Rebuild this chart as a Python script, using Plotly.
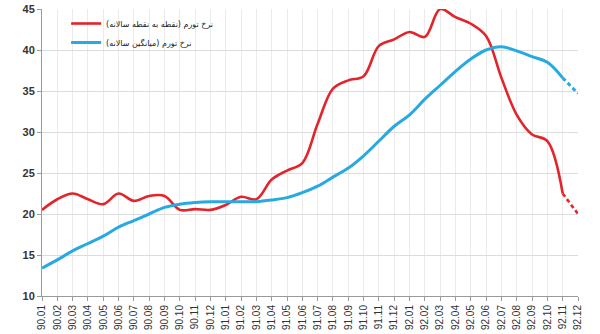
import plotly.graph_objects as go

categories = [f"{y}.{m:02d}" for y in (90, 91, 92) for m in range(1, 13)]

point_to_point = [20.5, 21.8, 22.5, 21.8, 21.2, 22.5, 21.6, 22.2, 22.2, 20.5, 20.6, 20.5,
                  21.1, 22.1, 21.8, 24.2, 25.3, 26.2, 31.0, 35.3, 36.3, 36.8, 40.5, 41.3,
                  42.2, 41.6, 45.0, 44.0, 43.2, 41.7, 36.6, 32.1, 29.7, 28.9, 22.5, 20.0]

annual_avg = [13.4, 14.4, 15.5, 16.4, 17.3, 18.4, 19.2, 20.0, 20.8, 21.2, 21.4, 21.5,
              21.5, 21.5, 21.5, 21.7, 22.0, 22.6, 23.4, 24.5, 25.6, 27.1, 28.9, 30.7,
              32.1, 34.0, 35.7, 37.4, 38.9, 40.0, 40.4, 39.9, 39.2, 38.5, 36.6, 34.7]

y_ticks = [10, 15, 20, 25, 30, 35, 40, 45]

name_red = "نرخ تورم (نقطه به نقطه سالانه)"
name_blue = "نرخ تورم (میانگین سالانه)"

RED = "#e3242b"
BLUE = "#27a9e1"

x_idx = list(range(len(categories)))
split = len(categories) - 2  # last segment drawn dashed

fig = go.Figure()
for vals, color, name, width in ((point_to_point, RED, name_red, 2.6),
                                 (annual_avg, BLUE, name_blue, 3)):
    fig.add_trace(go.Scatter(x=x_idx[:split + 1], y=vals[:split + 1], mode="lines",
                             line=dict(color=color, width=width, shape="spline", smoothing=1),
                             name=name, showlegend=True, cliponaxis=False))
    fig.add_trace(go.Scatter(x=x_idx[split:], y=vals[split:], mode="lines",
                             line=dict(color=color, width=width, dash="4px,3px"),
                             showlegend=False, hoverinfo="skip"))

fig.update_layout(
    width=600, height=334,
    margin=dict(l=42, r=22, t=9, b=38),
    paper_bgcolor="white", plot_bgcolor="white",
    showlegend=True,
    legend=dict(x=0.045, y=1.0, xanchor="left", yanchor="top",
                bgcolor="rgba(0,0,0,0)", font=dict(family="DejaVu Sans", size=8, color="#222"),
                itemwidth=30, tracegroupgap=0),
    font=dict(family="Liberation Sans", color="#333"),
)
fig.update_xaxes(
    range=[0, len(categories) - 1], automargin=False,
    tickmode="array", tickvals=x_idx, ticktext=categories,
    tickangle=-90, tickfont=dict(family="Liberation Sans", size=10, color="#333"),
    showgrid=True, gridcolor="#ebebeb", gridwidth=1,
    showline=True, linecolor="#9a9a9a", linewidth=1,
    ticks="outside", ticklen=4, tickcolor="#9a9a9a",
    zeroline=False,
)
fig.update_yaxes(
    range=[10, 45], automargin=False,
    tickmode="array", tickvals=y_ticks, ticktext=[f"<b>{v}</b>" for v in y_ticks],
    tickfont=dict(family="Liberation Sans", size=11, color="#333"),
    showgrid=True, gridcolor="#dcdcdc", gridwidth=1,
    showline=True, linecolor="#9a9a9a", linewidth=1,
    ticks="outside", ticklen=4, tickcolor="#9a9a9a",
    zeroline=False,
)

fig.write_html("out.html")
